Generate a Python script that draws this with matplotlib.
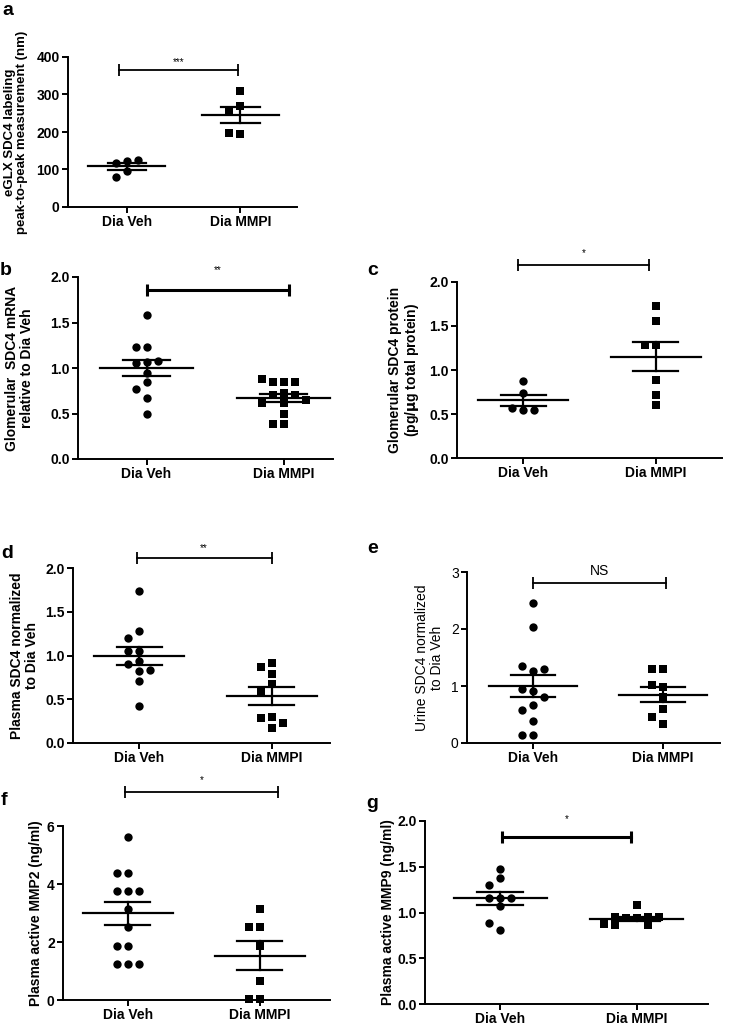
import numpy as np
import matplotlib
matplotlib.use("Agg")
import matplotlib.pyplot as plt

plt.rcParams['font.family'] = ['Liberation Sans', 'DejaVu Sans']

W, H = 731, 1025
groups = ['Dia Veh', 'Dia MMPI']

# data
a_veh = [123, 117, 126, 95, 80]
a_mmpi = [309, 270, 258, 194, 196]
b_veh = [1.58, 1.23, 1.23, 1.07, 1.05, 1.08, 0.95, 0.85, 0.77, 0.67, 0.50]
b_mmpi = [0.85, 0.85, 0.85, 0.88, 0.72, 0.70, 0.70, 0.62, 0.62, 0.65, 0.50, 0.39, 0.39]
c_veh = [0.87, 0.74, 0.54, 0.57, 0.55]
c_mmpi = [1.73, 1.56, 1.28, 1.28, 0.89, 0.72, 0.60]
d_veh = [1.74, 1.28, 1.20, 1.05, 1.05, 0.94, 0.90, 0.82, 0.83, 0.71, 0.42]
d_mmpi = [0.92, 0.87, 0.79, 0.68, 0.59, 0.30, 0.29, 0.23, 0.17]
e_veh = [2.45, 2.03, 1.26, 1.35, 1.29, 0.91, 0.94, 0.80, 0.66, 0.58, 0.39, 0.14, 0.14]
e_mmpi = [1.29, 1.30, 0.98, 1.01, 0.80, 0.59, 0.45, 0.34]
f_veh = [5.63, 4.39, 4.39, 3.77, 3.77, 3.77, 3.13, 2.51, 1.87, 1.87, 1.24, 1.24, 1.24]
f_mmpi = [3.13, 2.51, 2.51, 1.87, 0.66, 0.02, 0.02]
g_veh = [1.48, 1.38, 1.30, 1.16, 1.16, 1.16, 1.07, 0.81, 0.88]
g_mmpi = [1.08, 0.94, 0.94, 0.95, 0.95, 0.95, 0.86, 0.86, 0.87]
sig = ['***', '**', '*', '**', 'NS', '*', '*']

fig = plt.figure(figsize=(W/100, H/100), dpi=100)


def swarm(vals, py, step):
    # greedy column layout like Prism
    placed = []
    xs = []
    for v in vals:
        for k in [0, -1, 1, -2, 2, -3, 3]:
            if all(abs(v - pv)*py >= 8 for pv, pk in placed if pk == k):
                break
        placed.append((v, k))
        xs.append(k*step)
    return np.array(xs)


def panel(px, letter, lpos, veh, mmpi, ymax, yticks, fmt, ylabel, lab_right,
          xlim, bar, bar_y, txt, txt_y, ylw='bold', ylfs=10, barlw=1.3, txtfs=7):
    x0, x1, yt, yb = px
    ax = fig.add_axes([x0/W, 1-yb/H, (x1-x0)/W, (yb-yt)/H])
    ax.set_xlim(*xlim)
    ax.set_ylim(0, ymax)
    pyu = (yb-yt)/ymax
    step = 11/((x1-x0)/(xlim[1]-xlim[0]))
    for i, (vals, m) in enumerate([(veh, 'o'), (mmpi, 's')]):
        vals = np.array(vals, float)
        xs = i + swarm(vals, pyu, step)
        ax.scatter(xs, vals, marker=m, s=36,
                   color='black', clip_on=False, zorder=3, linewidths=0)
        mn = vals.mean()
        se = vals.std(ddof=1)/np.sqrt(len(vals))
        kw = dict(color='black', lw=1.6, zorder=4)
        ax.plot([i-0.34, i+0.34], [mn, mn], **kw)
        ax.plot([i-0.17, i+0.17], [mn+se, mn+se], **kw)
        ax.plot([i-0.17, i+0.17], [mn-se, mn-se], **kw)
        ax.plot([i, i], [mn-se, mn+se], **kw)
    ax.plot(bar, [bar_y, bar_y], color='black', lw=barlw, marker='|',
            markersize=8, markeredgewidth=barlw, clip_on=False)
    ax.text(np.mean(bar), txt_y, txt, ha='center', va='center',
            fontsize=txtfs, clip_on=False)
    for s in ['top', 'right']:
        ax.spines[s].set_visible(False)
    for s in ['left', 'bottom']:
        ax.spines[s].set_linewidth(1.4)
    ax.set_xticks([0, 1])
    ax.set_xticklabels(groups, fontsize=10, fontweight='bold')
    ax.set_yticks(yticks)
    ax.set_yticklabels([fmt.format(t) for t in yticks], fontsize=10,
                       fontweight=ylw)
    ax.tick_params(width=1.4, length=4, pad=2)
    ax.set_ylabel(ylabel, fontsize=ylfs, fontweight=ylw, linespacing=1.05)
    ax.yaxis.set_label_coords((lab_right-x0)/(x1-x0), 0.5)
    fig.text(lpos[0]/W, 1-lpos[1]/H, letter, fontsize=14, fontweight='bold',
             va='top', ha='left')
    return ax


panel((68, 297, 57, 207), 'a', (2, 2), a_veh, a_mmpi, 400,
      [0, 100, 200, 300, 400], '{:.0f}',
      'eGLX SDC4 labeling\npeak-to-peak measurement (nm)', 28,
      (-0.52, 1.50), [-0.07, 0.98], 366, sig[0], 387, ylfs=9.5)
panel((78, 333, 277, 459), 'b', (0, 262), b_veh, b_mmpi, 2.0,
      [0, 0.5, 1.0, 1.5, 2.0], '{:.1f}',
      'Glomerular  SDC4 mRNA\nrelative to Dia Veh', 34,
      (-0.50, 1.36), [0, 1.04], 1.86, sig[1], 2.08, barlw=2.2)
panel((457, 722, 282, 458), 'c', (367, 262), c_veh, c_mmpi, 2.0,
      [0, 0.5, 1.0, 1.5, 2.0], '{:.1f}',
      'Glomerular SDC4 protein\n(pg/$\\mathbf{\\mu}$g total protein)', 421,
      (-0.50, 1.50), [-0.04, 0.95], 2.19, sig[2], 2.33)
panel((73, 330, 568, 743), 'd', (1, 545), d_veh, d_mmpi, 2.0,
      [0, 0.5, 1.0, 1.5, 2.0], '{:.1f}',
      'Plasma SDC4 normalized\nto Dia Veh', 39,
      (-0.50, 1.44), [-0.02, 1.0], 2.11, sig[3], 2.23)
panel((467, 720, 572, 743), 'e', (367, 540), e_veh, e_mmpi, 3,
      [0, 1, 2, 3], '{:.0f}',
      'Urine SDC4 normalized\nto Dia Veh', 444,
      (-0.51, 1.44), [0, 1.02], 2.81, sig[4], 3.02, ylw='normal',
      txtfs=10)
panel((63, 330, 826, 1000), 'f', (1, 792), f_veh, f_mmpi, 6,
      [0, 2, 4, 6], '{:.0f}',
      'Plasma active MMP2 (ng/ml)', 43,
      (-0.49, 1.53), [-0.02, 1.14], 7.18, sig[5], 7.6)
panel((425, 708, 821, 1004), 'g', (366, 795), g_veh, g_mmpi, 2.0,
      [0, 0.5, 1.0, 1.5, 2.0], '{:.1f}',
      'Plasma active MMP9 (ng/ml)', 395,
      (-0.55, 1.52), [0.01, 0.96], 1.83, sig[6], 2.02, barlw=2.2)

fig.savefig('out.png', dpi=100)
